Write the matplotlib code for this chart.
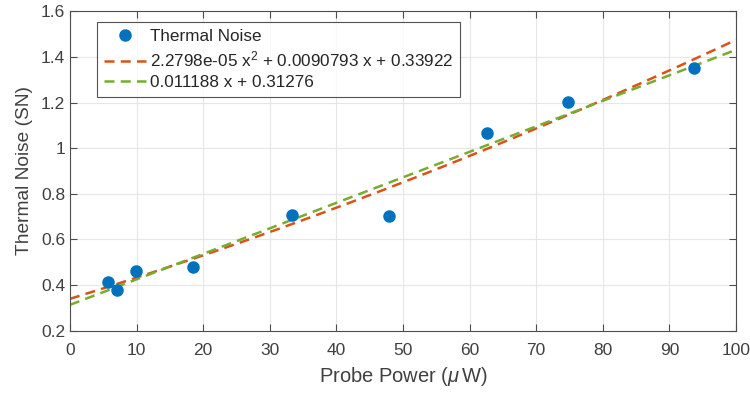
import numpy as np
import matplotlib
matplotlib.use("Agg")
import matplotlib.pyplot as plt

plt.rcParams['font.family'] = ['Liberation Sans', 'DejaVu Sans']
plt.rcParams['mathtext.fontset'] = 'custom'
plt.rcParams['mathtext.it'] = 'Liberation Sans:italic'
plt.rcParams['mathtext.rm'] = 'Liberation Sans'

# measured data
probe_power = [5.75, 7.0, 9.9, 18.4, 33.4, 47.9, 62.6, 74.8, 93.7]
thermal_noise = [0.415, 0.376, 0.462, 0.478, 0.709, 0.702, 1.065, 1.204, 1.352]

# fit coefficients (from the legend)
quad_coef = [2.2798e-05, 0.0090793, 0.33922]
lin_coef = [0.011188, 0.31276]
quad_label = r'2.2798e-05 x$^2$ + 0.0090793 x + 0.33922'
lin_label = '0.011188 x + 0.31276'

blue = '#0072BD'
orange = '#D95319'
green = '#77AC30'
axcol = '#4d4d4d'

fig = plt.figure(figsize=(7.5, 3.94), dpi=100)
ax = fig.add_axes([0.0933, 0.161, 0.888, 0.810])

xfit = np.linspace(0, 100, 200)
ax.plot(probe_power, thermal_noise, 'o', color=blue, markersize=8, label='Thermal Noise', zorder=3)
ax.plot(xfit, np.polyval(quad_coef, xfit), '--', color=orange, lw=1.8, dashes=(4, 2.5), label=quad_label)
ax.plot(xfit, np.polyval(lin_coef, xfit), '--', color=green, lw=1.8, dashes=(4, 2.5), label=lin_label)

ax.set_xlim(0, 100)
ax.set_ylim(0.2, 1.6)
ax.set_xticks(np.arange(0, 101, 10))
ax.set_yticks([0.2, 0.4, 0.6, 0.8, 1, 1.2, 1.4, 1.6])
ax.set_yticklabels(['0.2', '0.4', '0.6', '0.8', '1', '1.2', '1.4', '1.6'])
ax.grid(True, color='#e6e6e6', lw=0.8)
ax.set_axisbelow(True)
ax.tick_params(direction='in', length=5, width=0.8, colors=axcol, labelsize=12.5,
               top=True, right=True, labelcolor='#404040')
ax.tick_params(axis='x', pad=9)
for s in ax.spines.values():
    s.set_color(axcol)
    s.set_linewidth(0.8)

ax.set_xlabel(r'Probe Power ($\mu\,$W)', fontsize=14.5, color='#404040', labelpad=5)
ax.set_ylabel('Thermal Noise (SN)', fontsize=13.8, color='#404040', labelpad=6)

leg = ax.legend(loc='upper left', bbox_to_anchor=(0.0405, 0.967), borderaxespad=0,
                fontsize=12.3, frameon=True, fancybox=False, edgecolor='#262626',
                handlelength=2.5, handletextpad=0.2, borderpad=0.4, labelspacing=0.34)
leg.get_frame().set_linewidth(0.8)
for t in leg.get_texts():
    t.set_color('#262626')

fig.savefig('out.png', dpi=100)
